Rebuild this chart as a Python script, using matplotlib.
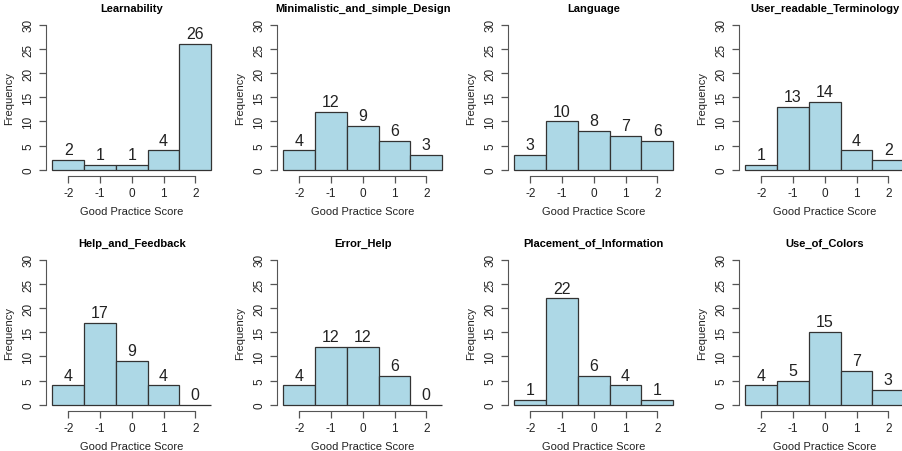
import numpy as np
import matplotlib
matplotlib.use("Agg")
import matplotlib.pyplot as plt

plt.rcParams['font.family'] = ['Liberation Sans', 'DejaVu Sans']
plt.rcParams['axes.unicode_minus'] = False

# scores -2..2, counts per score
scores = [-2, -1, 0, 1, 2]
titles = ["Learnability", "Minimalistic_and_simple_Design", "Language",
          "User_readable_Terminology", "Help_and_Feedback", "Error_Help",
          "Placement_of_Information", "Use_of_Colors"]
learnability = [2, 1, 1, 4, 26]
minimalistic = [4, 12, 9, 6, 3]
language = [3, 10, 8, 7, 6]
terminology = [1, 13, 14, 4, 2]
help_feedback = [4, 17, 9, 4, 0]
error_help = [4, 12, 12, 6, 0]
placement = [1, 22, 6, 4, 1]
colors = [4, 5, 15, 7, 3]
counts = [learnability, minimalistic, language, terminology,
          help_feedback, error_help, placement, colors]
yticks = [0, 5, 10, 15, 20, 25, 30]

W, H = 903, 452
fig = plt.figure(figsize=(W / 100, H / 100), dpi=100)

txt = '#222222'
axc = '#555555'

# pixel layout of each panel (left edge, top edge)
lefts = [46, 277, 508, 739]
tops = [20, 255]
aw, ah = 171.5, 156.5

for i, (title, c) in enumerate(zip(titles, counts)):
    r, col = divmod(i, 4)
    l = lefts[col]
    t = tops[r]
    ax = fig.add_axes([l / W, 1 - (t + ah) / H, aw / W, ah / H])
    ax.patch.set_alpha(0)
    ax.bar(scores, c, width=1.0, color='#ADD8E6', edgecolor='#333333', linewidth=0.9)
    for x, v in zip(scores, c):
        ax.annotate(str(v), (x, v), xytext=(0, 2), textcoords='offset points',
                    ha='center', va='bottom', fontsize=11.5, color=txt)
    ax.set_xlim(-2.7, 2.7)
    ax.set_ylim(-1.2, 31.2)
    for s in ['top', 'right']:
        ax.spines[s].set_visible(False)
    ax.spines['left'].set_bounds(0, 30)
    ax.spines['bottom'].set_bounds(-2, 2)
    ax.spines['left'].set_color(axc)
    ax.spines['bottom'].set_color(axc)
    ax.set_xticks(scores)
    ax.set_yticks(yticks)
    ax.set_yticklabels([str(v) for v in yticks], rotation=90, va='center')
    ax.tick_params(colors=axc, labelcolor=txt, labelsize=8.5, length=5, width=0.9)
    ax.set_title(title, fontsize=8, fontweight='bold', color='black', pad=6)
    ax.set_xlabel("Good Practice Score", fontsize=8, color=txt, labelpad=5)
    ax.set_ylabel("Frequency", fontsize=8, color=txt, labelpad=6)

fig.savefig("out.png", dpi=100)
